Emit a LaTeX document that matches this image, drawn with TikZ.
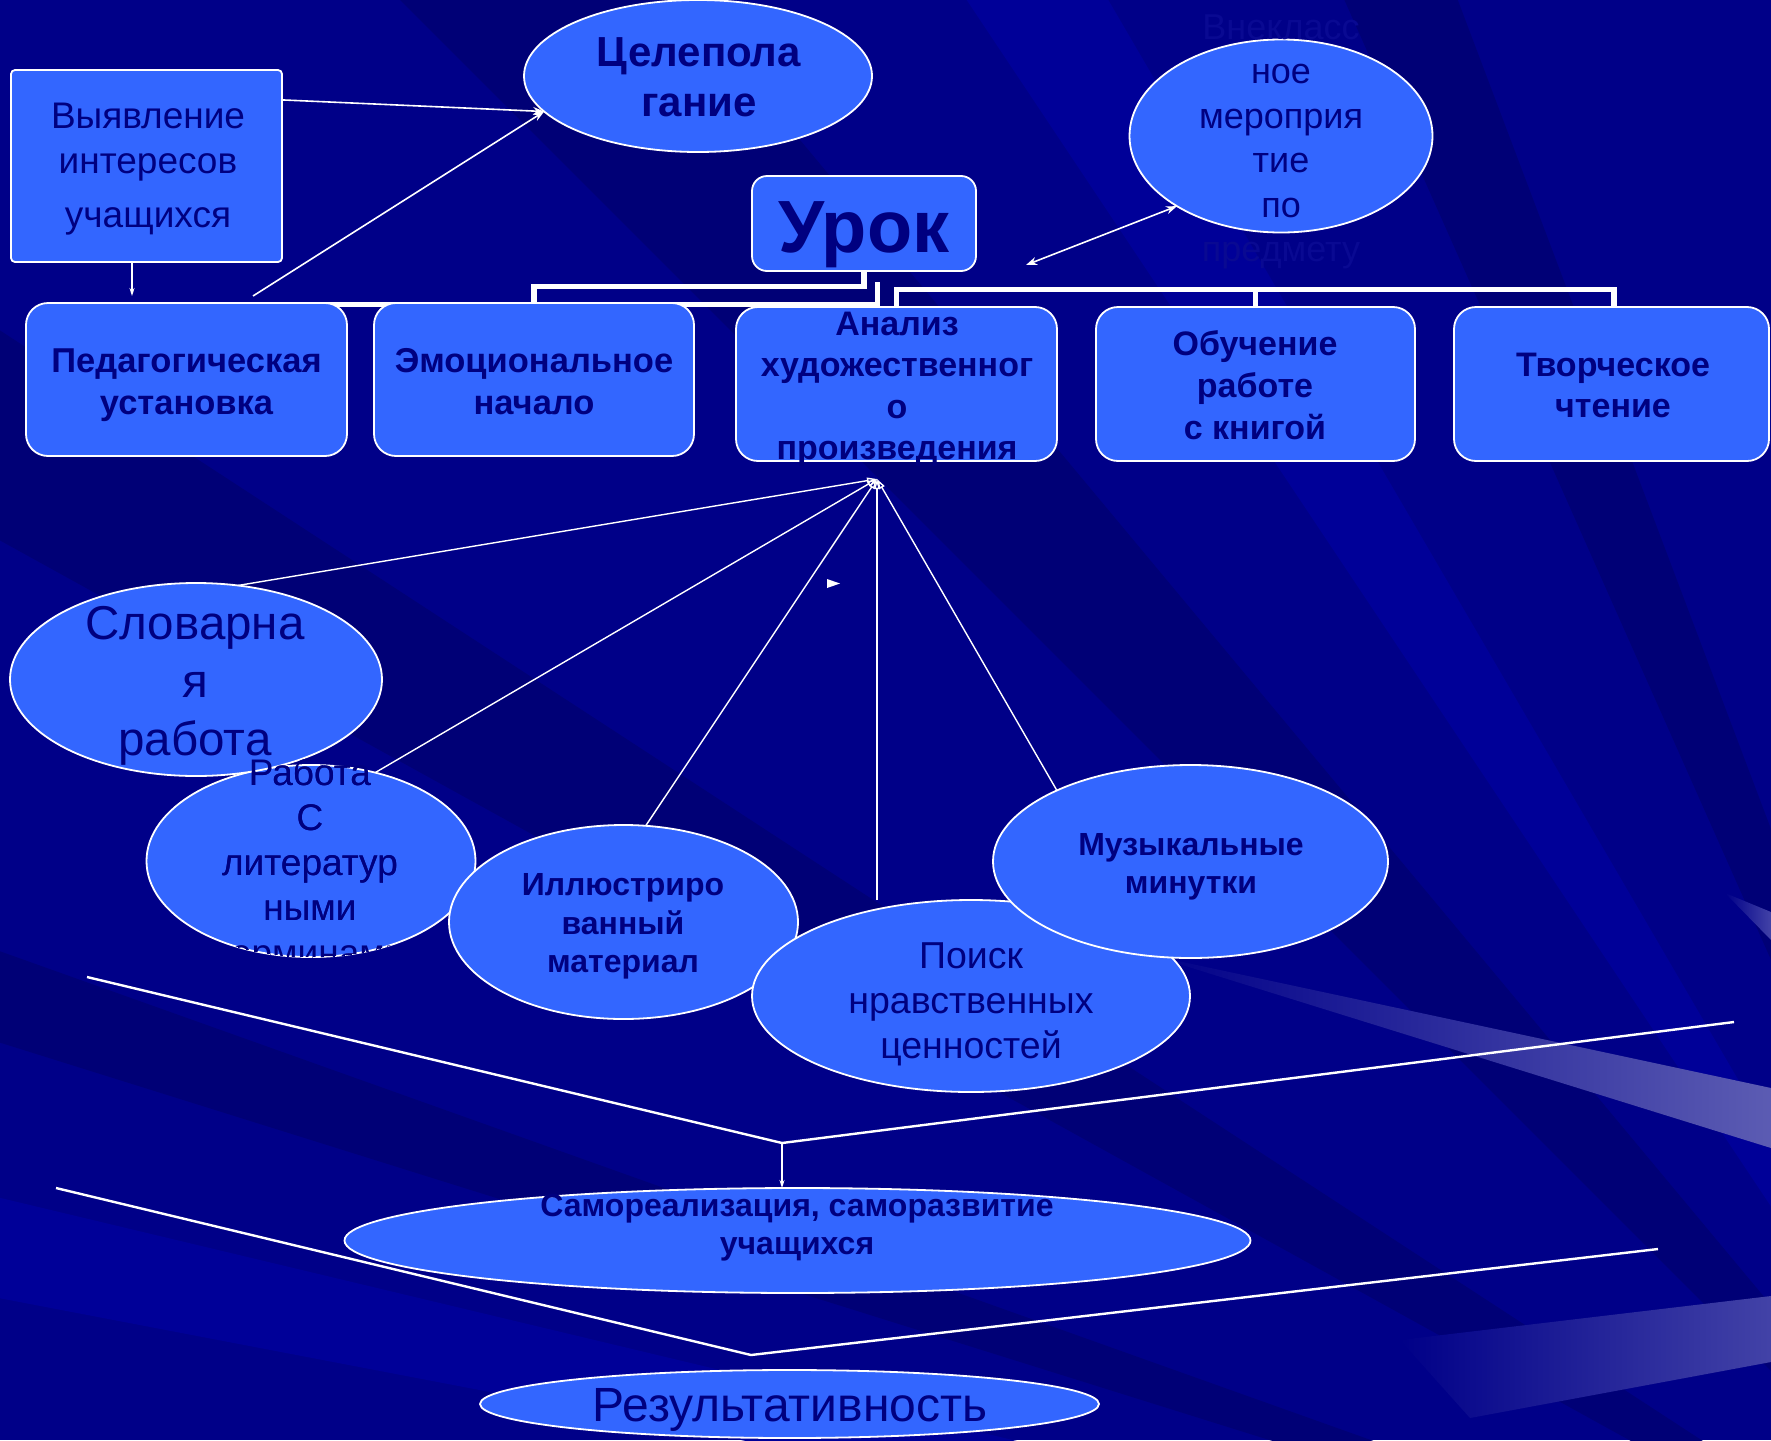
\documentclass[tikz,border=0pt]{standalone}
\usepackage{fontspec}
\setmainfont{Liberation Sans}
\usetikzlibrary{shapes.geometric,arrows.meta}
\definecolor{bg}{HTML}{000088}
\definecolor{bgdark}{HTML}{000076}
\definecolor{bglite}{HTML}{000098}
\definecolor{nodeblue}{HTML}{3366FF}
\definecolor{txt}{HTML}{000080}
\definecolor{faint}{HTML}{090992}
\newcommand{\fsz}[2]{\fontsize{#1}{#2}\selectfont}
\begin{document}
\begin{tikzpicture}[x=1pt,y=-1pt,
  box/.style={draw=white,line width=1.8pt,fill=nodeblue,rounded corners=22pt,inner sep=0pt,outer sep=0pt},
  oval/.style={ellipse,draw=white,line width=1.8pt,fill=nodeblue,inner sep=0pt,outer sep=0pt},
  lbl/.style={text=txt,align=center,inner sep=0pt,execute at begin node=\strut,execute at end node=\strut},
  single/.style={text=txt,inner sep=0pt,anchor=base},
  orgline/.style={draw=white,line width=5.5pt},
  conn/.style={draw=white,line width=1.6pt},
  fan/.style={draw=white,line width=1.4pt,-{Triangle[open,length=10pt,width=6pt]}},
  tip/.style={-{Stealth[length=11pt,width=8pt]}},
  smalltip/.style={-{Stealth[length=8pt,width=5pt]}},
  vline/.style={draw=white,line width=2.4pt},
]
\useasboundingbox (0,0) rectangle (1771,1440);
% ---------- background ----------
\begin{scope}
\clip (0,0) rectangle (1771,1440);
\fill[bg] (0,0) rectangle (1771,1440);
\coordinate (P) at (2100,1700);
\fill[bgdark] (P) -- (-200,200) -- (-200,430) -- cycle;
\fill[bgdark] (P) -- (300,-100) -- (600,-100) -- cycle;
\fill[bgdark] (P) -- (1300,-100) -- (1420,-100) -- cycle;
\fill[bgdark] (P) -- (-200,880) -- (-200,980) -- cycle;
\fill[bglite] (P) -- (900,-100) -- (1050,-100) -- cycle;
\fill[bglite] (P) -- (-200,1150) -- (-200,1260) -- cycle;
\shade[left color=bg,right color=white!36!bg] (1150,955) -- (1771,1088) -- (1771,1148) -- cycle;
\shade[left color=bg,right color=white!26!bg] (1400,1340) -- (1470,1418) -- (1771,1362) -- (1771,1296) -- cycle;
\shade[left color=bg,right color=white!26!bg] (1725,893) -- (1771,912) -- (1771,940) -- cycle;
\end{scope}
% ---------- org-chart connectors ----------
\node[box,rounded corners=4pt,minimum width=271pt,minimum height=192pt] (vyyav) at (146.5,166) {};
\node[box,rounded corners=15pt,minimum width=224pt,minimum height=95pt] (urok) at (864,223.5) {};
\coordinate (pedN) at (186.5,303);
\coordinate (emoN) at (534,303);
\coordinate (analizN) at (896.5,307);
\coordinate (obuchN) at (1255.5,307);
\coordinate (tvorN) at (1614,307);
\draw[orgline] (urok.south) |- (534,286.5) -- (emoN);
\draw[orgline] (pedN |- 0,304.5) -- (877.5,304.5);
\draw[orgline] (877.5,282) -- (877.5,307);
\draw[orgline] (analizN) -- (896.5,289.5) -- (tvorN |- 0,289.5) -- (tvorN);
\draw[orgline] (obuchN) -- (obuchN |- 0,289.5);
% ---------- top nodes ----------
\node[oval,minimum width=348pt,minimum height=152pt] (celi) at (698,76) {};
\node[oval,minimum width=303pt,minimum height=193pt] (vne) at (1281,136) {};
\node[box,minimum width=321pt,minimum height=153pt] (ped) at (186.5,379.5) {};
\node[box,minimum width=320pt,minimum height=153pt] (emo) at (534,379.5) {};
\node[box,minimum width=321pt,minimum height=154pt] (analiz) at (896.5,384) {};
\node[box,minimum width=319pt,minimum height=154pt] (obuch) at (1255.5,384) {};
\node[box,minimum width=315pt,minimum height=154pt] (tvor) at (1611.5,384) {};
% ---------- top arrows ----------
\draw[conn,tip] (vyyav.26) -- (celi.193);
\draw[conn,tip] ([xshift=66.5pt,yshift=7pt]ped.north) -- (celi.193);
\draw[conn,line width=1.2pt,smalltip] ([xshift=-14.5pt]vyyav.south) -- ([xshift=-54.5pt,yshift=7pt]ped.north);
\coordinate (dblend) at (1026,265);
\draw[conn,{Stealth[length=11pt,width=8pt]}-{Stealth[length=11pt,width=8pt]}] (dblend) -- (vne.214);
% ---------- lower ellipses ----------
\node[oval,minimum width=329pt,minimum height=192pt] (rabota) at (311,861) {};
\node[oval,minimum width=372pt,minimum height=193pt] (slovar) at (196,679.5) {};
\node[oval,minimum width=349pt,minimum height=194pt] (illu) at (623.5,922) {};
\node[oval,minimum width=438pt,minimum height=192pt] (poisk) at (971,996) {};
\node[oval,minimum width=395pt,minimum height=193pt] (muz) at (1190.5,861.5) {};
% ---------- fan of arrows ----------
\coordinate (hub) at (877,479);
\draw[fan] (slovar.66) -- (hub);
\draw[fan] (rabota.54) -- (hub);
\draw[fan] (illu.77) -- (hub);
\draw[fan] (hub |- poisk.north) -- (hub);
\draw[fan] (muz.152) -- (hub);
\fill[white] (827,579) -- (840,583.5) -- (827,588) -- cycle;
% ---------- bottom part ----------
\coordinate (v1l) at (87,977);
\coordinate (v1m) at (782,1143);
\coordinate (v1r) at (1734,1022);
\draw[vline] (v1l) -- (v1m) -- (v1r);
\node[oval,minimum width=906pt,minimum height=105pt] (samo) at (797.5,1240.5) {};
\draw[conn,line width=1.2pt,smalltip] (v1m) -- (v1m |- samo.north);
\coordinate (v2l) at (56,1188);
\coordinate (v2m) at (751,1355);
\coordinate (v2r) at (1658,1249);
\draw[vline] (v2l) -- (v2m) -- (v2r);
\node[oval,minimum width=619pt,minimum height=68pt] (rez) at (789.5,1404) {};
% ---------- texts ----------
\node[lbl,font=\fsz{37}{45}] (vyyavT) at (148,172.5) {Выявление\\интересов\\[9pt]учащихся};
\node[lbl,font=\bfseries\fsz{42}{50}] (celiT) at (699,85) {Целепола\\гание};
\node[single,font=\bfseries\fsz{74}{80}] (urokT) at (864,252) {Урок};
\node[lbl,font=\fsz{36}{44.5}] (vneT) at (1281,145) {\textcolor{faint}{Внекласс}\\ное\\мероприя\\тие\\по\\\textcolor{faint}{предмету}};
\node[lbl,font=\bfseries\fsz{34.5}{42}] (pedT) at (186.5,388) {Педагогическая\\установка};
\node[lbl,font=\bfseries\fsz{34.5}{42}] (emoT) at (534,388) {Эмоциональное\\начало};
\node[lbl,font=\bfseries\fsz{34}{41.5}] (analizT) at (897,392) {Анализ\\художественног\\о\\произведения};
\node[lbl,font=\bfseries\fsz{34}{42}] (obuchT) at (1255,391.5) {Обучение\\работе\\с книгой};
\node[lbl,font=\bfseries\fsz{34}{41}] (tvorT) at (1613,391.5) {Творческое\\чтение};
\node[lbl,font=\fsz{47.5}{58}] (slovarT) at (195,690) {Словарна\\я\\работа};
\begin{scope}
\clip (0,0) rectangle (1771,935);
\node[lbl,font=\fsz{37}{45}] (rabotaT) at (310,869) {Работа\\С\\литератур\\ными\\терминами};
\end{scope}
\begin{scope}
\clip (rabota.center) ellipse [x radius=164pt,y radius=96pt];
\node[lbl,font=\fsz{37}{45}] (rabotaT2) at (310,869) {Работа\\С\\литератур\\ными\\терминами};
\end{scope}
\node[lbl,font=\bfseries\fsz{32}{38.5}] (illuT) at (623,929) {Иллюстриро\\ванный\\материал};
\node[lbl,font=\fsz{37.5}{45}] (poiskT) at (971,1007) {Поиск\\нравственных\\ценностей};
\node[lbl,font=\bfseries\fsz{32}{38}] (muzT) at (1191,869) {Музыкальные\\минутки};
\node[lbl,font=\bfseries\fsz{32}{38}] (samoT) at (797,1230) {Самореализация, саморазвитие\\учащихся};
\node[single,font=\fsz{48}{56}] (rezT) at (790,1421) {Результативность};
\end{tikzpicture}
\end{document}
